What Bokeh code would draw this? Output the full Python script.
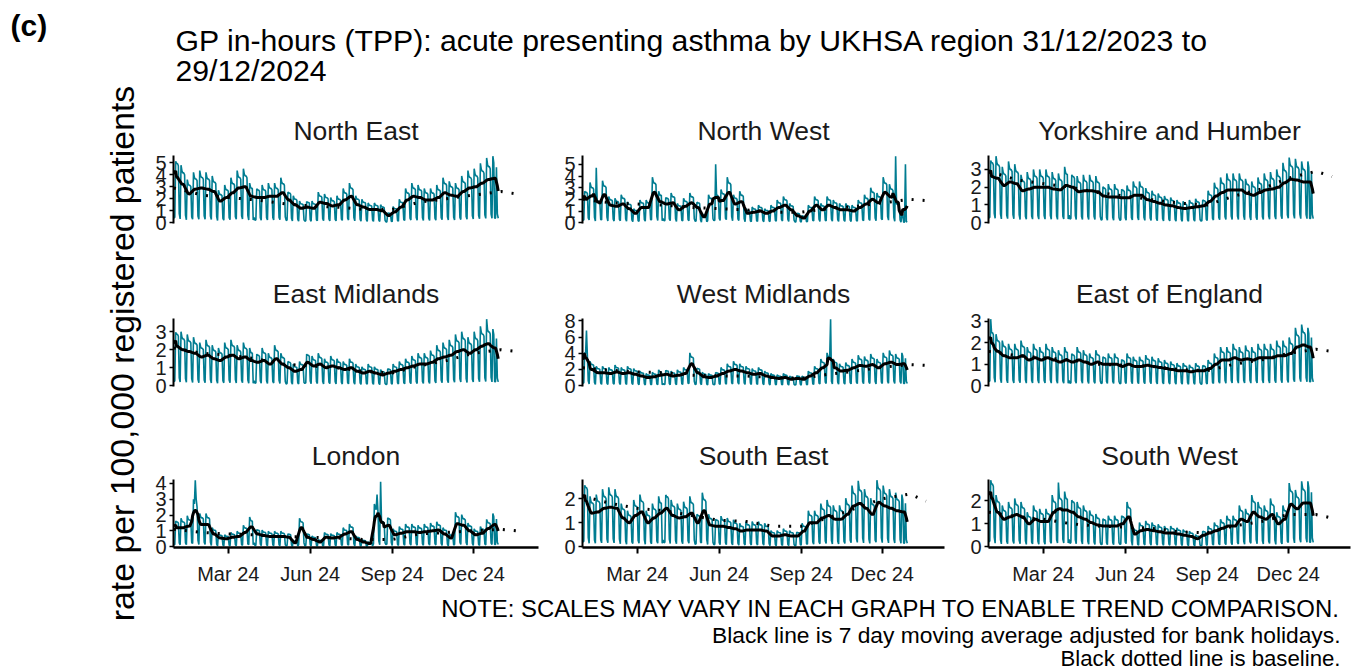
import numpy as np
import pandas as pd
from bokeh.plotting import figure
from bokeh.layouts import row, column
from bokeh.models import Range1d, FixedTicker
from bokeh.core.properties import value
from bokeh.embed import file_html
from bokeh.resources import INLINE

# ---------------- data ----------------
START = "2023-12-31"
END = "2024-12-29"
regions = ["North East", "North West", "Yorkshire and Humber",
           "East Midlands", "West Midlands", "East of England",
           "London", "South East", "South West"]

# weekly level of the 7-day moving average (weeks Sun-Sat from 31/12/2023)
weekly = {
    "North East": [3.8, 3.2, 2.4, 2.8, 2.9, 2.8, 2.6, 1.8, 2.1, 2.5,
                   2.9, 3.0, 2.2, 2.1, 2.1, 2.2, 2.2, 2.5, 1.9, 1.5,
                   1.2, 1.3, 1.2, 1.7, 1.6, 1.4, 1.5, 1.9, 2.2, 1.5,
                   1.3, 1.1, 1.1, 1.0, 0.6, 0.9, 1.3, 1.9, 2.2, 2.1,
                   1.9, 1.9, 2.1, 2.5, 2.3, 2.2, 2.6, 2.9, 3.0, 3.3,
                   3.6, 3.7, 3.7],
    "North West": [2.0, 2.3, 1.4, 2.4, 1.5, 1.4, 1.6, 1.2, 0.8, 1.3,
                   1.3, 2.6, 1.8, 1.6, 1.7, 1.1, 1.4, 1.7, 1.3, 0.5,
                   1.6, 1.8, 1.9, 2.6, 1.6, 1.8, 0.8, 0.9, 1.0, 0.8,
                   1.0, 1.3, 1.5, 1.1, 0.6, 0.4, 1.0, 1.5, 1.1, 1.5,
                   1.3, 1.1, 1.1, 1.0, 1.3, 1.6, 2.0, 1.7, 2.6, 2.2,
                   1.2, 0.5, 0.5],
    "Yorkshire and Humber": [2.6, 2.5, 2.1, 2.3, 2.2, 1.8, 1.9, 2.0, 2.0, 2.0,
                             1.9, 1.85, 2.1, 2.0, 1.75, 1.8, 1.8, 1.75, 1.5, 1.45,
                             1.45, 1.4, 1.4, 1.55, 1.55, 1.3, 1.2, 1.1, 1.0, 0.95,
                             0.85, 0.8, 0.85, 0.9, 0.95, 1.2, 1.5, 1.7, 1.85, 1.85,
                             1.85, 1.65, 1.55, 1.7, 1.85, 1.9, 2.0, 2.25, 2.45, 2.4,
                             2.3, 2.3, 2.3],
    "East Midlands": [2.2, 2.0, 1.9, 1.8, 1.6, 1.7, 1.5, 1.4, 1.6, 1.7,
                      1.5, 1.6, 1.4, 1.3, 1.4, 1.2, 1.5, 1.2, 1.0, 0.8,
                      0.9, 1.3, 1.1, 1.2, 1.0, 1.1, 1.0, 0.9, 1.0, 0.8,
                      0.7, 0.8, 0.7, 0.6, 0.7, 0.8, 0.9, 1.0, 1.1, 1.2,
                      1.2, 1.3, 1.5, 1.6, 1.7, 1.9, 2.0, 1.8, 2.0, 2.2,
                      2.3, 2.1, 2.1],
    "West Midlands": [3.0, 2.0, 1.6, 1.6, 1.5, 1.7, 1.5, 1.6, 1.4, 1.2,
                      1.0, 1.1, 1.3, 1.4, 1.2, 1.3, 1.5, 2.7, 1.6, 1.1,
                      1.0, 1.2, 1.5, 1.8, 2.0, 1.8, 1.6, 1.4, 1.5, 1.2,
                      1.0, 0.9, 1.0, 0.8, 0.9, 0.8, 1.2, 1.6, 2.2, 2.7,
                      2.2, 1.8, 1.9, 2.2, 2.5, 2.4, 2.6, 2.2, 2.7, 2.9,
                      2.6, 2.7, 2.7],
    "East of England": [1.9, 1.6, 1.4, 1.3, 1.3, 1.4, 1.2, 1.3, 1.2, 1.3,
                        1.2, 1.1, 1.2, 1.1, 1.2, 1.1, 1.0, 1.1, 1.0, 1.0,
                        1.0, 0.9, 1.0, 0.9, 0.9, 0.95, 0.9, 0.85, 0.8, 0.75,
                        0.7, 0.7, 0.65, 0.7, 0.7, 0.8, 1.0, 1.2, 1.2, 1.3,
                        1.2, 1.25, 1.2, 1.3, 1.3, 1.3, 1.4, 1.4, 1.5, 1.8,
                        1.9, 1.8, 1.8],
    "London": [1.2, 1.2, 1.3, 2.0, 1.4, 1.4, 0.8, 0.55, 0.5, 0.6,
               0.65, 0.9, 1.25, 0.8, 0.7, 0.65, 0.65, 0.65, 0.6, 0.25,
               1.2, 0.6, 0.45, 0.3, 0.6, 0.55, 0.6, 0.8, 0.95, 0.45,
               0.3, 0.2, 1.8, 1.2, 1.35, 0.75, 0.85, 0.95, 0.95, 0.9,
               0.95, 1.0, 1.05, 0.8, 0.55, 1.45, 1.35, 1.0, 0.75, 0.85,
               1.15, 1.4, 1.4],
    "South East": [1.9, 1.4, 1.45, 1.6, 1.65, 1.6, 1.2, 1.0, 1.3, 1.45,
                   1.0, 1.2, 1.4, 1.6, 1.3, 1.2, 1.25, 1.4, 1.0, 1.5,
                   0.9, 0.85, 0.85, 0.8, 0.75, 0.65, 0.7, 0.7, 0.7, 0.65,
                   0.45, 0.45, 0.5, 0.45, 0.45, 0.65, 1.0, 1.0, 1.2, 1.3,
                   1.15, 1.15, 1.35, 1.7, 1.8, 1.6, 1.35, 1.85, 1.7, 1.6,
                   1.5, 1.45, 1.45],
    "South West": [2.1, 1.5, 1.2, 1.3, 1.4, 1.3, 1.0, 1.2, 1.1, 1.1,
                   1.5, 1.6, 1.6, 1.5, 1.3, 1.2, 1.05, 0.95, 0.9, 0.9,
                   0.9, 1.0, 1.3, 0.55, 0.7, 0.75, 0.7, 0.65, 0.6, 0.6,
                   0.55, 0.5, 0.45, 0.35, 0.5, 0.6, 0.7, 0.8, 0.9, 0.9,
                   1.2, 1.1, 1.5, 1.3, 1.2, 1.4, 1.0, 1.2, 1.85, 1.65,
                   1.9, 1.9, 1.9],
}

# relative level by weekday (Mon..Sun)
weekday_profile = [1.5, 1.35, 1.3, 1.3, 1.25, 0.2, 0.1]
bank_holidays = ["2024-01-01", "2024-03-29", "2024-04-01", "2024-05-06",
                 "2024-05-27", "2024-08-26", "2024-12-25", "2024-12-26"]

# isolated tall daily spikes
peaks = {
    "North West": [("2024-01-15", 4.7), ("2024-05-28", 5.0), ("2024-12-16", 5.7), ("2024-12-27", 5.0)],
    "East Midlands": [("2024-12-16", 3.7)],
    "West Midlands": [("2024-01-04", 6.8), ("2024-10-04", 8.2)],
    "East of England": [("2024-01-02", 3.1)],
    "London": [("2024-01-24", 4.2), ("2024-01-25", 3.0), ("2024-08-15", 3.3), ("2024-08-19", 4.1)],
    "South East": [("2024-11-04", 2.75)],
    "South West": [("2024-01-02", 2.9), ("2024-03-18", 2.8)],
}

baseline_dates = ["2023-12-31", "2024-02-01", "2024-03-01", "2024-04-01", "2024-05-01",
                  "2024-06-01", "2024-07-01", "2024-08-01", "2024-09-01", "2024-10-01",
                  "2024-11-01", "2024-12-01", "2025-01-01", "2025-01-19"]
baseline = {
    "North East": [2.9, 2.3, 2.1, 1.9, 1.6, 1.4, 1.3, 1.1, 1.1, 1.7, 2.0, 2.3, 2.6, 2.4],
    "North West": [2.0, 1.7, 1.6, 1.5, 1.3, 1.2, 1.1, 0.9, 0.9, 1.2, 1.4, 1.7, 2.0, 1.9],
    "Yorkshire and Humber": [2.9, 2.4, 2.2, 2.0, 1.7, 1.5, 1.3, 1.1, 1.0, 1.5, 1.9, 2.5, 2.9, 2.6],
    "East Midlands": [2.1, 1.8, 1.7, 1.5, 1.2, 1.1, 1.0, 0.8, 0.7, 1.1, 1.4, 1.8, 2.0, 1.9],
    "West Midlands": [2.2, 1.9, 1.7, 1.6, 1.3, 1.2, 1.2, 1.0, 0.9, 1.4, 1.8, 2.3, 2.6, 2.5],
    "East of England": [1.6, 1.4, 1.3, 1.2, 1.0, 0.95, 0.9, 0.75, 0.7, 1.0, 1.2, 1.5, 1.7, 1.6],
    "London": [1.1, 0.9, 0.8, 0.75, 0.65, 0.6, 0.55, 0.45, 0.45, 0.8, 0.9, 1.0, 1.1, 1.0],
    "South East": [2.1, 1.8, 1.6, 1.5, 1.3, 1.1, 1.05, 0.85, 0.85, 1.2, 1.6, 2.0, 2.2, 1.9],
    "South West": [1.5, 1.3, 1.2, 1.0, 0.9, 0.85, 0.8, 0.65, 0.6, 0.9, 1.1, 1.4, 1.4, 1.25],
}

y_ticks = {
    "North East": [0, 1, 2, 3, 4, 5],
    "North West": [0, 1, 2, 3, 4, 5],
    "Yorkshire and Humber": [0, 1, 2, 3],
    "East Midlands": [0, 1, 2, 3],
    "West Midlands": [0, 2, 4, 6, 8],
    "East of England": [0, 1, 2, 3],
    "London": [0, 1, 2, 3, 4],
    "South East": [0, 1, 2],
    "South West": [0, 1, 2],
}
x_tick_dates = ["2024-03-01", "2024-06-01", "2024-09-01", "2024-12-01"]

title_lines = ["GP in-hours (TPP): acute presenting asthma by UKHSA region 31/12/2023 to",
               "29/12/2024"]
y_label = "rate per 100,000 registered patients"
notes = ["NOTE: SCALES MAY VARY IN EACH GRAPH TO ENABLE TREND COMPARISON.",
         "Black line is 7 day moving average adjusted for bank holidays.",
         "Black dotted line is baseline."]

# ---------------- styling / layout ----------------
FONT = "Liberation Sans"
TEAL = "#007C91"
TXT = "#1a1a1a"
PX_PER_DAY = 0.891
X0 = -0.45
LEFT_B = [30, 22, 22]
FRAME_W = [365, 362, 362]
RIGHT_B = [22, 22, 4]
FRAME_H = 68
TOTAL_W = 1209
STRIP_W = 143
HEADER_H = 88
PAGE_H = 672

t0 = pd.Timestamp(START)
dates = pd.date_range(START, END, freq="D")
days = np.asarray((dates - t0).days, dtype=float)
bh = set(pd.to_datetime(bank_holidays))


def daily_series(name):
    wk = np.array(weekly[name])
    prof = np.array(weekday_profile)
    level = wk[(days // 7).astype(int)]
    adj = level * prof[dates.dayofweek]
    raw = adj.copy()
    for i, d in enumerate(dates):
        if d in bh:
            raw[i] = adj[i] * 0.08
    for ds, v in peaks.get(name, []):
        k = (pd.Timestamp(ds) - t0).days
        raw[k] = v
        adj[k] = v
    ma = pd.Series(adj).rolling(7, center=True, min_periods=4).mean().values
    return raw, ma


def canvas(w, h):
    p = figure(width=w, height=h, x_range=Range1d(0, w), y_range=Range1d(h, 0),
               output_backend="svg", toolbar_location=None, min_border=0,
               x_axis_location=None, y_axis_location=None)
    p.grid.visible = False
    p.outline_line_color = None
    p.background_fill_color = "white"
    p.border_fill_color = "white"
    return p


# per-row geometry: (title fig height, title centre y, panel top border, panel bottom border)
ROW_GEOM = [(58, 42, 9, 12), (74, 58, 9, 12), (73, 57, 8, 45)]


def panel(name, ci, ri):
    raw, ma = daily_series(name)
    bdays = np.asarray((pd.to_datetime(baseline_dates) - t0).days, dtype=float)
    M = max(raw.max(), max(baseline[name]))
    bottom = ri == 2
    _, _, tb, bb = ROW_GEOM[ri]
    fw = FRAME_W[ci]
    p = figure(width=LEFT_B[ci] + fw + RIGHT_B[ci], height=tb + FRAME_H + bb,
               output_backend="svg", toolbar_location=None,
               min_border_left=LEFT_B[ci], min_border_right=RIGHT_B[ci],
               min_border_top=tb, min_border_bottom=bb,
               x_range=Range1d(X0, X0 + fw / PX_PER_DAY),
               y_range=Range1d(-0.012 * M, 1.01 * M),
               x_axis_location="below" if bottom else None)
    p.grid.visible = False
    p.outline_line_color = None
    p.background_fill_color = "white"
    p.border_fill_color = "white"

    p.line(days, raw, line_color=TEAL, line_width=1.6)
    p.line(bdays, baseline[name], line_color="black", line_width=3, line_dash="2 9")
    p.line(days, ma, line_color="black", line_width=3)

    ya = p.yaxis[0]
    ya.ticker = FixedTicker(ticks=y_ticks[name])
    ya.minor_tick_line_color = None
    ya.major_tick_in = 0
    ya.major_tick_out = 4
    ya.major_tick_line_width = 1.5
    ya.axis_line_width = 2
    ya.major_label_standoff = 3
    ya.major_label_text_font = FONT
    ya.major_label_text_font_size = "20px"
    ya.major_label_text_color = TXT

    if bottom:
        xa = p.xaxis[0]
        tks = [float((pd.Timestamp(d) - t0).days) for d in x_tick_dates]
        xa.ticker = FixedTicker(ticks=tks)
        xa.major_label_overrides = {t: pd.Timestamp(d).strftime("%b %y")
                                    for t, d in zip(tks, x_tick_dates)}
        xa.minor_tick_line_color = None
        xa.major_tick_in = 0
        xa.major_tick_out = 6
        xa.major_tick_line_width = 2
        xa.axis_line_width = 2.5
        xa.major_label_standoff = 9
        xa.major_label_text_font = FONT
        xa.major_label_text_font_size = "20px"
        xa.major_label_text_color = TXT
    return p


def titles_fig(ri, names):
    h, cy, _, _ = ROW_GEOM[ri]
    p = canvas(TOTAL_W, h)
    xs = []
    left = 0
    for ci in range(3):
        xs.append(left + LEFT_B[ci] + FRAME_W[ci] / 2)
        left += LEFT_B[ci] + FRAME_W[ci] + RIGHT_B[ci]
    p.text(x=xs, y=[cy] * 3, text=names, text_font=value(FONT),
           text_font_size="26.5px", text_align="center", text_baseline="middle",
           text_color=TXT)
    return p


# left strip: panel tag and rotated y label (full page height)
strip = canvas(STRIP_W, PAGE_H)
strip.text(x=[10], y=[25], text=["(c)"], text_font=value(FONT), text_font_size="30px",
           text_font_style="bold", text_align="left", text_baseline="middle", text_color="black")
strip.text(x=[121], y=[353], text=[y_label], text_font=value(FONT),
           text_font_size="33.8px", angle=np.pi / 2, text_align="center",
           text_baseline="middle", text_color="black")

# title header (right of strip)
header = canvas(TOTAL_W, HEADER_H)
header.text(x=[175 - STRIP_W] * 2, y=[40, 70], text=title_lines, text_font=value(FONT),
            text_font_size="30.2px", text_align="left", text_baseline="middle", text_color="black")

rows = [header]
for ri in range(3):
    names = regions[ri * 3: ri * 3 + 3]
    rows.append(titles_fig(ri, names))
    rows.append(row(*[panel(n, ci, ri) for ci, n in enumerate(names)], spacing=0))

notes_fig = canvas(TOTAL_W, 80)
notes_fig.text(x=[1340 - STRIP_W] * 3, y=[16, 42, 66], text=notes, text_font=value(FONT),
               text_font_size=["23.9px", "22.8px", "22.2px"], text_align="right",
               text_baseline="middle", text_color="black")
rows.append(notes_fig)

layout = row(strip, column(*rows, spacing=0), spacing=0)

open("out.html", "w").write(file_html(layout, INLINE))
